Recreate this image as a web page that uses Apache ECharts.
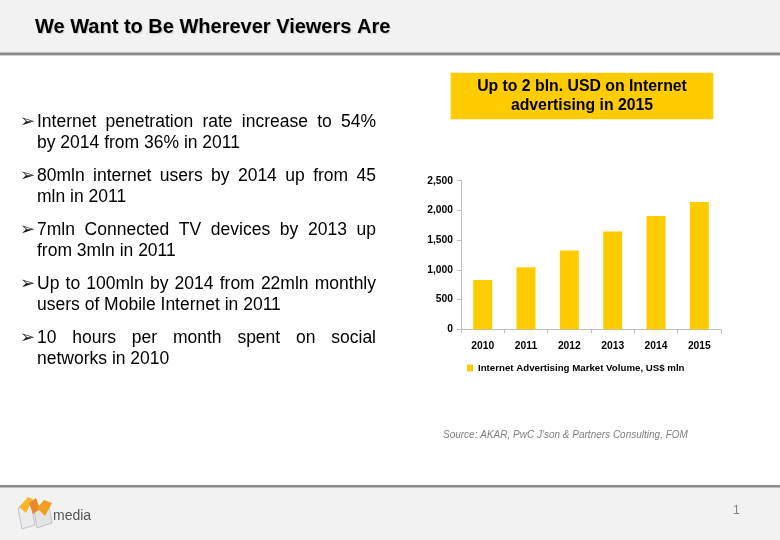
<!DOCTYPE html>
<html>
<head>
<meta charset="utf-8">
<script src="https://cdn.jsdelivr.net/npm/echarts@6/dist/echarts.min.js"></script>
<style>
  html, body { margin: 0; padding: 0; background: #ffffff; }
  #chart { width: 780px; height: 540px; }
</style>
</head>
<body>
<div id="chart"></div>
<script>
// ---- data ----
const years = ['2010', '2011', '2012', '2013', '2014', '2015'];
const adVolume = [830, 1045, 1325, 1645, 1905, 2140];
const seriesName = 'Internet Advertising Market Volume, US$ mln';
const yMin = 0;
const yMax = 2500;
const yStep = 500;

const titleText = 'We Want to Be Wherever Viewers Are';
const calloutLines = ['Up to 2 bln. USD on Internet', 'advertising in 2015'];
const sourceText = 'Source: AKAR, PwC J\u2019son & Partners Consulting, FOM';
const pageNumber = '1';
const bullets = [
  ['Internet penetration rate increase to 54%', 'by 2014 from 36% in 2011'],
  ['80mln internet users by 2014 up from 45', 'mln in 2011'],
  ['7mln Connected TV devices by 2013 up', 'from 3mln in 2011'],
  ['Up to 100mln by 2014 from 22mln monthly', 'users of Mobile Internet in 2011'],
  ['10 hours per month spent on social', 'networks in 2010']
];

// ---- layout helpers ----
const FONT_FAMILY = "'Liberation Sans', Arial, sans-serif";
const bulletFont = "17.5px " + FONT_FAMILY;
const measureCtx = document.createElement('canvas').getContext('2d');
function textWidth(t, font) { measureCtx.font = font; return measureCtx.measureText(t).width; }

const graphics = [];
// header
graphics.push({ type: 'rect', shape: { x: 0, y: 0, width: 780, height: 53 }, style: { fill: '#f2f2f2' }, silent: true });
graphics.push({ type: 'rect', shape: { x: 0, y: 52.5, width: 780, height: 2.5 }, style: { fill: '#8a8a8a' }, silent: true });
graphics.push({ type: 'rect', shape: { x: 0, y: 55, width: 780, height: 1 }, style: { fill: '#d0d0d0' }, silent: true });
graphics.push({ type: 'text', style: { text: titleText, x: 35, y: 27, font: 'bold 20px ' + FONT_FAMILY, fill: '#000', verticalAlign: 'middle', align: 'left', textShadowColor: 'rgba(0,0,0,0.18)', textShadowBlur: 1, textShadowOffsetX: 1, textShadowOffsetY: 1 } });
// footer
graphics.push({ type: 'rect', shape: { x: 0, y: 486, width: 780, height: 54 }, style: { fill: '#f2f2f2' }, silent: true });
graphics.push({ type: 'rect', shape: { x: 0, y: 485, width: 780, height: 2.5 }, style: { fill: '#8a8a8a' }, silent: true });
graphics.push({ type: 'text', style: { text: pageNumber, x: 733, y: 511, font: '12px ' + FONT_FAMILY, fill: '#808080', verticalAlign: 'middle' } });
// logo
graphics.push({ type: 'polygon', shape: { points: [[18, 508], [31, 504], [35, 525], [22, 529]] }, style: { fill: '#ececec', stroke: '#b8b8b8', lineWidth: 0.8 } });
graphics.push({ type: 'polygon', shape: { points: [[34, 510], [49, 506], [52, 523], [37, 528]] }, style: { fill: '#e4e4e4', stroke: '#b8b8b8', lineWidth: 0.8 } });
graphics.push({ type: 'polygon', shape: { points: [[19, 507], [28, 497], [33, 499], [26, 513]] }, style: { fill: '#f7b52c' } });
graphics.push({ type: 'polygon', shape: { points: [[29, 503], [36, 498], [40, 509], [33, 514]] }, style: { fill: '#e9892a' } });
graphics.push({ type: 'polygon', shape: { points: [[37, 508], [44, 500], [52, 503], [45, 516]] }, style: { fill: '#f0a020' } });
graphics.push({ type: 'text', style: { text: 'media', x: 53, y: 516, font: '14px ' + FONT_FAMILY, fill: '#555', verticalAlign: 'middle' } });
// callout box
graphics.push({ type: 'rect', shape: { x: 450.7, y: 72.7, width: 262.6, height: 46.6 }, style: { fill: '#ffcc00' }, silent: true });
calloutLines.forEach(function (t, i) {
  graphics.push({ type: 'text', style: { text: t, x: 582, y: 86.7 + i * 19, font: 'bold 15.8px ' + FONT_FAMILY, fill: '#000', align: 'center', verticalAlign: 'middle' } });
});
// source
graphics.push({ type: 'text', style: { text: sourceText, x: 443, y: 435, font: 'italic 10px ' + FONT_FAMILY, fill: '#7f7f7f', verticalAlign: 'middle' } });
// bullets (first line justified, second left aligned)
const textLeft = 37, textRight = 376;
bullets.forEach(function (para, p) {
  const y1 = 121.7 + p * 54;
  graphics.push({ type: 'text', style: { text: '\u27A2', x: 20, y: y1 + 0.5, font: "18px 'DejaVu Sans'", fill: '#222', verticalAlign: 'middle' } });
  const words = para[0].split(' ');
  const widths = words.map(function (w) { return textWidth(w, bulletFont); });
  const total = widths.reduce(function (a, b) { return a + b; }, 0);
  const gap = (textRight - textLeft - total) / (words.length - 1);
  let x = textLeft;
  words.forEach(function (w, i) {
    graphics.push({ type: 'text', style: { text: w, x: x, y: y1, font: bulletFont, fill: '#000', verticalAlign: 'middle' } });
    x += widths[i] + gap;
  });
  graphics.push({ type: 'text', style: { text: para[1], x: textLeft, y: y1 + 21.6, font: bulletFont, fill: '#000', verticalAlign: 'middle' } });
});

const chart = echarts.init(document.getElementById('chart'), null, { renderer: 'canvas' });
chart.setOption({
  animation: false,
  backgroundColor: '#ffffff',
  grid: { left: 461, top: 180.7, width: 260, height: 148.6, containLabel: false },
  legend: {
    data: [seriesName],
    left: 467, top: 363, padding: 0,
    icon: 'rect', itemWidth: 6, itemHeight: 7,
    textStyle: { fontFamily: FONT_FAMILY, fontWeight: 'bold', fontSize: 9.7, color: '#000' }
  },
  xAxis: {
    type: 'category',
    data: years,
    axisLine: { lineStyle: { color: '#bfbfbf', width: 1 } },
    axisTick: { show: true, length: 4, lineStyle: { color: '#bfbfbf' } },
    axisLabel: { fontFamily: FONT_FAMILY, fontWeight: 'bold', fontSize: 10.3, color: '#000', margin: 12 }
  },
  yAxis: {
    type: 'value',
    min: yMin, max: yMax, interval: yStep,
    axisLine: { show: true, lineStyle: { color: '#bfbfbf', width: 1 } },
    axisTick: { show: true, length: 4, lineStyle: { color: '#bfbfbf' } },
    splitLine: { show: false },
    axisLabel: {
      fontFamily: FONT_FAMILY, fontWeight: 'bold', fontSize: 10.3, color: '#000', margin: 8,
      formatter: function (v) { return v.toLocaleString('en-US'); }
    }
  },
  series: [{
    name: seriesName,
    type: 'bar',
    data: adVolume,
    barWidth: 19,
    itemStyle: { color: '#ffcc00' }
  }],
  graphic: graphics
});
</script>
</body>
</html>
